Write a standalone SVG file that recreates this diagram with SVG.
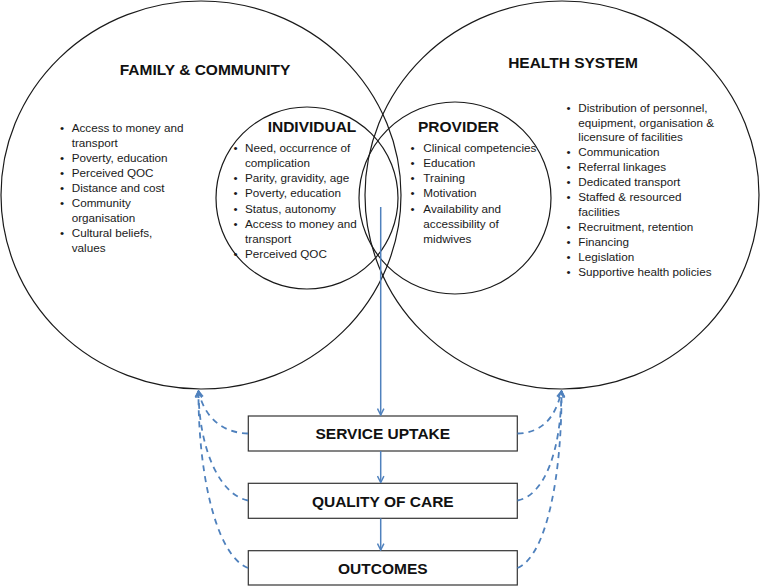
<svg xmlns="http://www.w3.org/2000/svg" width="760" height="586" viewBox="0 0 760 586">
<style>
.ring{fill:none;stroke:#1a1a1a;stroke-width:1.2}
.ttl{font-family:"Liberation Sans",Arial,sans-serif;font-weight:bold;font-size:15.5px;fill:#111;text-anchor:middle}
.itm{font-family:"Liberation Sans",Arial,sans-serif;font-size:11.7px;fill:#1a1a1a}
.box{fill:#fff;stroke:#333;stroke-width:1.2}
.btxt{font-family:"Liberation Sans",Arial,sans-serif;font-weight:bold;font-size:15.5px;fill:#111;text-anchor:middle}
.flow{fill:none;stroke:#4f81bd;stroke-width:1.5;marker-end:url(#ah)}
.fb{fill:none;stroke:#4f81bd;stroke-width:1.8;stroke-dasharray:6 5;marker-end:url(#ah)}
</style>
<defs>
<marker id="ah" viewBox="0 0 10 10" refX="9" refY="5" markerWidth="8" markerHeight="8" markerUnits="userSpaceOnUse" orient="auto">
<path d="M1,1 L9,5 L1,9" fill="none" stroke="#4f81bd" stroke-width="1.8"/>
</marker>
</defs>
<rect width="760" height="586" fill="#fff"/>

<g id="family-community">
<ellipse class="ring" cx="201" cy="195" rx="200" ry="194"/>
<text class="ttl" x="205" y="75">FAMILY &amp; COMMUNITY</text>
<g class="itm">
<text x="60" y="131.5">•</text><text x="71.7" y="131.5">Access to money and</text>
<text x="71.7" y="146.5">transport</text>
<text x="60" y="161.5">•</text><text x="71.7" y="161.5">Poverty, education</text>
<text x="60" y="176.5">•</text><text x="71.7" y="176.5">Perceived QOC</text>
<text x="60" y="191.5">•</text><text x="71.7" y="191.5">Distance and cost</text>
<text x="60" y="206.5">•</text><text x="71.7" y="206.5">Community</text>
<text x="71.7" y="221.5">organisation</text>
<text x="60" y="236.5">•</text><text x="71.7" y="236.5">Cultural beliefs,</text>
<text x="71.7" y="251.5">values</text>
</g>
</g>

<g id="health-system">
<ellipse class="ring" cx="562" cy="195" rx="197" ry="194"/>
<text class="ttl" x="573" y="68">HEALTH SYSTEM</text>
<g class="itm">
<text x="566.5" y="111.5">•</text><text x="578.3" y="111.5">Distribution of personnel,</text>
<text x="578.3" y="126.5">equipment, organisation &amp;</text>
<text x="578.3" y="141">licensure of facilities</text>
<text x="566.5" y="155.5">•</text><text x="578.3" y="155.5">Communication</text>
<text x="566.5" y="170.5">•</text><text x="578.3" y="170.5">Referral linkages</text>
<text x="566.5" y="185.5">•</text><text x="578.3" y="185.5">Dedicated transport</text>
<text x="566.5" y="200.5">•</text><text x="578.3" y="200.5">Staffed &amp; resourced</text>
<text x="578.3" y="215.5">facilities</text>
<text x="566.5" y="230.5">•</text><text x="578.3" y="230.5">Recruitment, retention</text>
<text x="566.5" y="245.5">•</text><text x="578.3" y="245.5">Financing</text>
<text x="566.5" y="260.5">•</text><text x="578.3" y="260.5">Legislation</text>
<text x="566.5" y="275.5">•</text><text x="578.3" y="275.5">Supportive health policies</text>
</g>
</g>

<g id="individual">
<circle class="ring" cx="307" cy="198" r="91"/>
<text class="ttl" x="312" y="132">INDIVIDUAL</text>
<g class="itm">
<text x="233.5" y="152">•</text><text x="245" y="152">Need, occurrence of</text>
<text x="245" y="167">complication</text>
<text x="233.5" y="182.2">•</text><text x="245" y="182.2">Parity, gravidity, age</text>
<text x="233.5" y="197.4">•</text><text x="245" y="197.4">Poverty, education</text>
<text x="233.5" y="212.6">•</text><text x="245" y="212.6">Status, autonomy</text>
<text x="233.5" y="227.8">•</text><text x="245" y="227.8">Access to money and</text>
<text x="245" y="242.8">transport</text>
<text x="233.5" y="258">•</text><text x="245" y="258">Perceived QOC</text>
</g>
</g>

<g id="provider">
<circle class="ring" cx="455" cy="198" r="96"/>
<text class="ttl" x="458.5" y="132">PROVIDER</text>
<g class="itm">
<text x="410.5" y="152">•</text><text x="423.3" y="152">Clinical competencies</text>
<text x="410.5" y="167">•</text><text x="423.3" y="167">Education</text>
<text x="410.5" y="182.2">•</text><text x="423.3" y="182.2">Training</text>
<text x="410.5" y="197.4">•</text><text x="423.3" y="197.4">Motivation</text>
<text x="410.5" y="212.6">•</text><text x="423.3" y="212.6">Availability and</text>
<text x="423.3" y="227.6">accessibility of</text>
<text x="423.3" y="242.6">midwives</text>
</g>
</g>

<g id="service-uptake">
<rect class="box" x="248.3" y="416" width="269" height="35"/>
<text class="btxt" x="382.8" y="439.3">SERVICE UPTAKE</text>
</g>
<g id="quality-of-care">
<rect class="box" x="248.3" y="483.3" width="269" height="35"/>
<text class="btxt" x="382.8" y="506.7">QUALITY OF CARE</text>
</g>
<g id="outcomes">
<rect class="box" x="248.3" y="550.7" width="269" height="34.3"/>
<text class="btxt" x="382.8" y="573.5">OUTCOMES</text>
</g>

<g id="connectors">
<path class="flow" d="M380.7,207 L380.7,415"/>
<path class="flow" d="M380.7,451 L380.7,482.5"/>
<path class="flow" d="M380.7,518.3 L380.7,550"/>
<path class="fb" d="M248,433.5 C225,433 205,420 198.5,391"/>
<path class="fb" d="M248,500.5 C220,495 199,450 198.5,391"/>
<path class="fb" d="M248,568 C215,555 198,470 198.5,391"/>
<path class="fb" d="M517.5,433.5 C540,433 555,420 561.5,391"/>
<path class="fb" d="M517.5,500.5 C545,495 561,450 561.5,391"/>
<path class="fb" d="M517.5,568 C548,555 562,470 561.5,391"/>
</g>
</svg>
